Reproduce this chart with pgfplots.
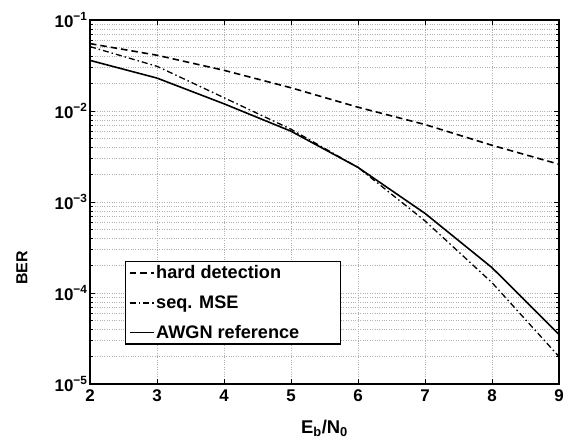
\documentclass[border=0pt]{standalone}
\usepackage{fontspec}
\setmainfont{Liberation Sans}
\usepackage{pgfplots}
\pgfplotsset{compat=1.18}

\begin{document}
\begin{tikzpicture}
\begin{axis}[
  name=ax,
  scale only axis,
  width=469bp, height=364bp,
  ymode=log,
  xmin=2, xmax=9,
  ymin=1e-5, ymax=1e-1,
  xtick={2,3,4,5,6,7,8,9},
  ytick={1e-5,1e-4,1e-3,1e-2,1e-1},
  yticklabels={10\textsuperscript{−5},10\textsuperscript{−4},10\textsuperscript{−3},10\textsuperscript{−2},10\textsuperscript{−1}},
  /pgf/number format/assume math mode=true,
  tick label style={font=\fontsize{17}{19}\selectfont\bfseries},
  xticklabel style={yshift=-2bp},
  yticklabel style={xshift=1bp},
  xlabel={E\textsubscript{b}/N\textsubscript{0}},
  ylabel={BER},
  xlabel style={font=\fontsize{18.5}{20}\selectfont\bfseries, at={(axis description cs:0.5,0)}, anchor=base, yshift=-49bp},
  ylabel style={font=\fontsize{16}{18}\selectfont\bfseries, at={(axis description cs:-0.145,0.319)}, anchor=center},
  grid=both,
  major grid style={dotted, gray!60, line width=0.6pt},
  minor grid style={dotted, gray!60, line width=0.6pt},
  minor x tick num=0,
  tick align=inside,
  major tick length=5bp,
  minor tick length=3bp,
  axis line style={line width=1.2pt},
  every tick/.style={black, line width=0.6pt},
  legend style={at={(0.075,0.338)}, anchor=north west, draw=black, line width=1.3pt,
    font=\fontsize{18.2}{19}\selectfont\bfseries, row sep=13.5bp, inner sep=3bp,
    nodes={inner ysep=1bp}},
  legend cell align=left,
  legend image code/.code={\draw[#1, line width=1.4pt] (0bp,0bp) -- (24bp,0bp);},
]
\addplot[black, line width=1.6pt, dash pattern=on 6.5bp off 4bp] coordinates {
(2,0.055) (3,0.041) (4,0.028) (5,0.018) (6,0.011) (7,0.0071) (8,0.0042) (9,0.0026)
};
\addlegendentry{hard detection}
\addplot[black, line width=1.3pt, dash pattern=on 6bp off 3bp on 1.5bp off 3bp] coordinates {
(2,0.051) (3,0.031) (4,0.014) (5,0.0063) (6,0.0024) (7,0.00062) (8,0.00013) (9,0.00002)
};
\addlegendentry{seq. MSE}
\addplot[black, line width=1.6pt] coordinates {
(2,0.036) (3,0.023) (4,0.012) (5,0.0060) (6,0.0024) (7,0.00075) (8,0.00019) (9,0.000035)
};
\addlegendentry{AWGN reference\hspace*{36bp}}
\end{axis}
\path ([xshift=-90bp,yshift=-56bp]ax.south west) rectangle ([xshift=10bp,yshift=20bp]ax.north east);
\end{tikzpicture}
\end{document}
